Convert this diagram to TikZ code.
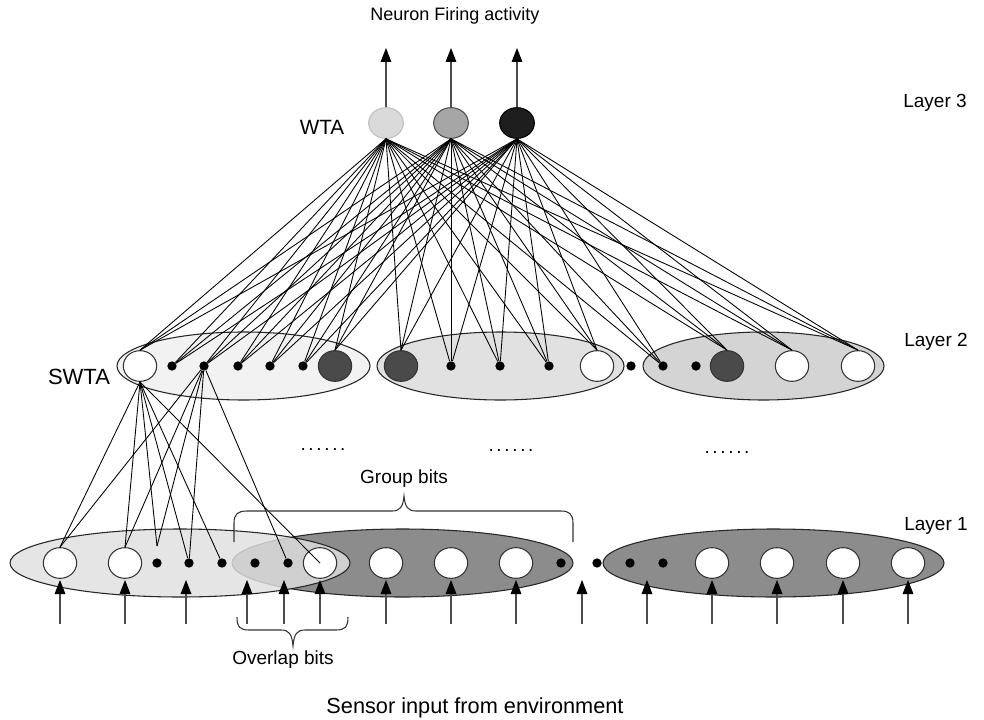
\documentclass[tikz,border=0pt]{standalone}
\usepackage{fontspec}
\setmainfont{Liberation Sans}
\usetikzlibrary{shapes.geometric,arrows.meta}
\definecolor{grpA}{HTML}{F2F2F2}
\definecolor{grpB}{HTML}{E1E1E1}
\definecolor{grpC}{HTML}{D4D4D4}
\definecolor{sensA}{HTML}{E0E0E0}
\definecolor{sensB}{HTML}{8C8C8C}
\definecolor{darkN}{HTML}{4A4A4A}
\definecolor{wtaA}{HTML}{DADADA}
\definecolor{wtaB}{HTML}{A6A6A6}
\definecolor{wtaC}{HTML}{1E1E1E}
\begin{document}
\begin{tikzpicture}[x=0.75pt,y=-0.75pt,
  grp/.style={ellipse, draw=black!85, line width=0.8pt, inner sep=0pt, minimum height=51pt},
  cell/.style={ellipse, draw=black!80, line width=0.8pt, fill=white, minimum width=25pt, minimum height=23pt, inner sep=0pt},
  darkcell/.style={cell, fill=darkN},
  bit/.style={circle, fill=black, minimum size=7pt, inner sep=0pt},
  wta/.style={ellipse, line width=0.8pt, minimum width=26pt, minimum height=23pt, inner sep=0pt},
  link/.style={line width=0.65pt, black},
  feed/.style={line width=0.8pt, black!70, -{Triangle[length=10.5pt,width=8pt,black]}},
  bracket/.style={line width=0.8pt, black!80},
  lbl/.style={font=\fontsize{14.25}{17}\selectfont, inner sep=0pt},
  gaps/.style={font=\fontsize{14.25}{17}\selectfont\addfontfeature{LetterSpace=14}, inner sep=0pt},
]
\useasboundingbox[fill=white] (0,0) rectangle (984,720);

% ---------- Layer 1: sensor groups ----------
\node[grp, fill=sensB, minimum width=255.75pt] (LB) at (402.5,563) {};
\node[grp, fill=sensB, minimum width=255.75pt] (LC) at (773.5,563) {};
\node[grp, fill=sensA, fill opacity=0.82, minimum width=255pt] (LA) at (180,563) {};

\node[cell] (l1) at (60,563) {};
\node[cell] (l2) at (125,563) {};
\node[bit]  (l3) at (157,563) {};
\node[bit]  (l4) at (189,563) {};
\node[bit]  (l5) at (222,563) {};
\node[bit]  (l6) at (255,563) {};
\node[bit]  (l7) at (288,563) {};
\node[cell] (l8) at (320,563) {};
\node[cell] (l9) at (386,563) {};
\node[cell] (l10) at (451,563) {};
\node[cell] (l11) at (516,563) {};
\node[bit]  (l12) at (561,563) {};
\node[bit]  (l13) at (597,563) {};
\node[bit]  (l14) at (630,563) {};
\node[bit]  (l15) at (663,563) {};
\node[cell] (l16) at (712,563) {};
\node[cell] (l17) at (777,563) {};
\node[cell] (l18) at (843,563) {};
\node[cell] (l19) at (908,563) {};
\coordinate (l3top) at (157,546);

% sensor inputs
\foreach \x in {60,125,186,247,284,320,386,451,516,582,647,712,777,843,908} {
  \coordinate (in\x) at (\x,624);
  \coordinate (tip\x) at (\x,580);
  \draw[feed] (in\x) -- (tip\x);
}

% ---------- Layer 2: SWTA groups ----------
\node[grp, fill=grpA, minimum width=189.75pt] (E1) at (243.5,366) {};
\node[grp, fill=grpB, minimum width=185.25pt] (E2) at (500.5,366) {};
\node[grp, fill=grpC, minimum width=180.75pt] (E3) at (763.5,366) {};

\node[cell]     (a1) at (140,366) {};
\node[bit]      (a2) at (172,366) {};
\node[bit]      (a3) at (204,366) {};
\node[bit]      (a4) at (238,366) {};
\node[bit]      (a5) at (270,366) {};
\node[bit]      (a6) at (303,366) {};
\node[darkcell] (a7) at (335,366) {};
\node[darkcell] (b1) at (401,366) {};
\node[bit]      (b2) at (451,366) {};
\node[bit]      (b3) at (500,366) {};
\node[bit]      (b4) at (549,366) {};
\node[cell]     (b5) at (597,366) {};
\node[bit]      (b6) at (631,366) {};
\node[bit]      (c1) at (663,366) {};
\node[bit]      (c2) at (696,366) {};
\node[darkcell] (c3) at (727,366) {};
\node[cell]     (c4) at (792,366) {};
\node[cell]     (c5) at (858,366) {};

% ---------- Layer 3: WTA ----------
\node[wta, fill=wtaA, draw=black!25] (w1) at (386,123) {};
\node[wta, fill=wtaB, draw=black!70] (w2) at (451,123) {};
\node[wta, fill=wtaC, draw=black]    (w3) at (517,123) {};
\foreach \w/\x in {w1/386,w2/451,w3/517} {
  \coordinate (out\w) at (\x,48);
  \draw[feed] (\w.north) -- (out\w);
}

% WTA to SWTA connections
\foreach \w in {w1,w2,w3} {
  \foreach \t in {a1.north,a2,a3,a4,a5,a6,a7.north,b1.north,b2,b3,b4,b5.north,c1,c3.north,c4.north,c5.north}
    \draw[link] (\w.south) -- (\t);
}

% SWTA to sensor connections
\foreach \t in {l1.north,l2.north,l3top,l4,l5,l8.center}
  \draw[link] (a1.south) -- (\t);
\foreach \t in {l1.north,l2.north,l3top,l4,l7}
  \draw[link] (a3) -- (\t);

% ---------- braces ----------
\draw[bracket] (234,542) -- (234,523) .. controls (234,514) and (238,511) .. (247,511)
  -- (392,511) .. controls (400,511) and (403,507) .. (404,496)
  .. controls (405,507) and (408,511) .. (416,511)
  -- (561,511) .. controls (569,511) and (573,514) .. (573,523) -- (573,542);
\draw[bracket] (237,617) .. controls (237,627) and (240,630) .. (249,630)
  -- (281,630) .. controls (289,630) and (292,634) .. (293,646)
  .. controls (294,634) and (297,630) .. (305,630)
  -- (336,630) .. controls (345,630) and (348,627) .. (348,617);

% ---------- labels ----------
\node[lbl, font=\fontsize{13.5}{16}\selectfont] (tfire) at (455,16) {Neuron Firing activity};
\node[lbl, font=\fontsize{15.5}{18}\selectfont] (twta) at (322,127) {WTA};
\node[lbl, font=\fontsize{16.5}{19}\selectfont] (tswta) at (79,377) {SWTA};
\node[lbl] (tl3) at (935,103) {Layer 3};
\node[lbl] (tl2) at (936,342) {Layer 2};
\node[lbl] (tl1) at (936,526) {Layer 1};
\node[lbl] (tgroup) at (404,479) {Group bits};
\node[lbl] (toverlap) at (283,660) {Overlap bits};
\node[lbl, font=\fontsize{16.3}{19}\selectfont] (tsensor) at (475,708) {Sensor input from environment};
\node[gaps] (d1) at (323,449) {......};
\node[gaps] (d2) at (511,450) {......};
\node[gaps] (d3) at (727,452) {......};
\end{tikzpicture}
\end{document}
